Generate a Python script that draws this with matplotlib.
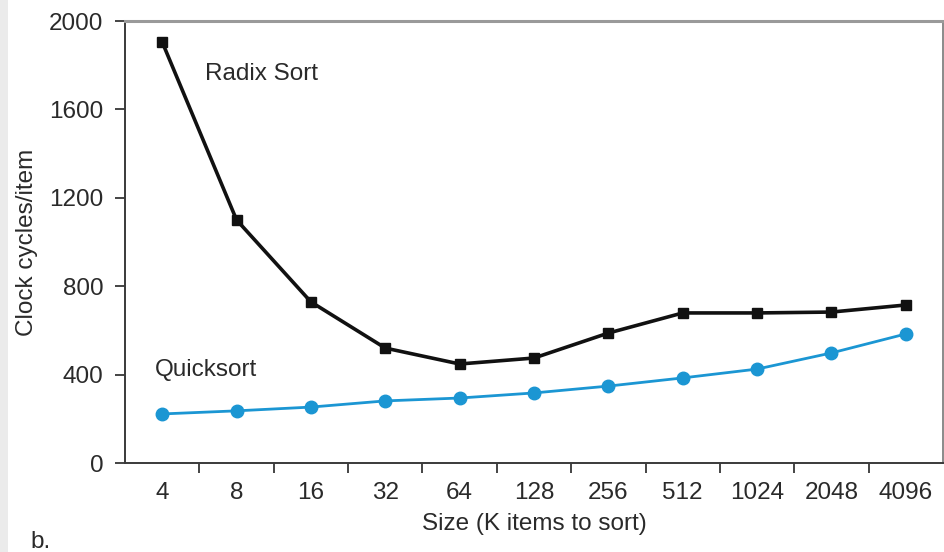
import numpy as np
import matplotlib.pyplot as plt
from matplotlib.patches import Rectangle

sizes = ["4", "8", "16", "32", "64", "128", "256", "512", "1024", "2048", "4096"]
radix_sort = [1905, 1100, 729, 520, 448, 475, 588, 679, 679, 683, 715]
quicksort = [222, 236, 253, 281, 294, 317, 348, 385, 425, 498, 584]
y_ticks = [0, 400, 800, 1200, 1600, 2000]

plt.rcParams['font.family'] = ['Liberation Sans', 'DejaVu Sans']
FS = 17.5
TXT = '#2a2a2a'

fig = plt.figure(figsize=(9.45, 5.52), dpi=100)
fig.patch.set_facecolor('white')
# light gray strip on the left edge
fig.patches.append(Rectangle((0, 0), 8 / 945, 1, transform=fig.transFigure,
                             facecolor='#ebebeb', edgecolor='none', zorder=0))

ax = fig.add_axes([125 / 945, 1 - 463 / 552, 818 / 945, 442 / 552])
x = np.arange(len(sizes))

ax.plot(x, radix_sort, color='#111111', lw=2.6, marker='s', ms=7.5,
        markerfacecolor='#111111', markeredgecolor='#111111', zorder=3)
ax.plot(x, quicksort, color='#1b96d3', lw=2.0, marker='o', ms=9,
        markerfacecolor='#1b96d3', markeredgecolor='#1b96d3', zorder=3)

ax.set_xlim(-0.5, len(sizes) - 0.5)
ax.set_ylim(0, 2000)

ax.set_xticks(x)
ax.set_xticklabels(sizes)
ax.set_xticks(np.arange(0.5, len(sizes) - 1, 1.0), minor=True)
ax.tick_params(axis='x', which='major', length=0, pad=14, labelsize=FS,
               labelcolor=TXT)
ax.tick_params(axis='x', which='minor', length=7.5, width=1.4, color='#444444',
               direction='out')

ax.set_yticks(y_ticks)
ax.tick_params(axis='y', length=7.5, width=1.4, color='#444444', pad=8,
               labelsize=FS, labelcolor=TXT)

for side in ['left', 'bottom']:
    ax.spines[side].set_color('#3a3a3a')
    ax.spines[side].set_linewidth(1.4)
ax.spines['top'].set_color('#9a9a9a')
ax.spines['top'].set_linewidth(2.2)
ax.spines['right'].set_color('#8a8a8a')
ax.spines['right'].set_linewidth(1.4)

ax.set_xlabel("Size (K items to sort)", fontsize=FS, color=TXT, labelpad=6)
ax.set_ylabel("Clock cycles/item", fontsize=FS, color=TXT, labelpad=8)

ax.text(0.58, 1760, "Radix Sort", fontsize=FS, color=TXT, va='center')
ax.text(-0.1, 420, "Quicksort", fontsize=FS, color=TXT, va='center')
fig.text(30 / 945, 1 - 542 / 552, "b.", fontsize=FS, color=TXT, va='center')

fig.savefig("out.png", dpi=100)
